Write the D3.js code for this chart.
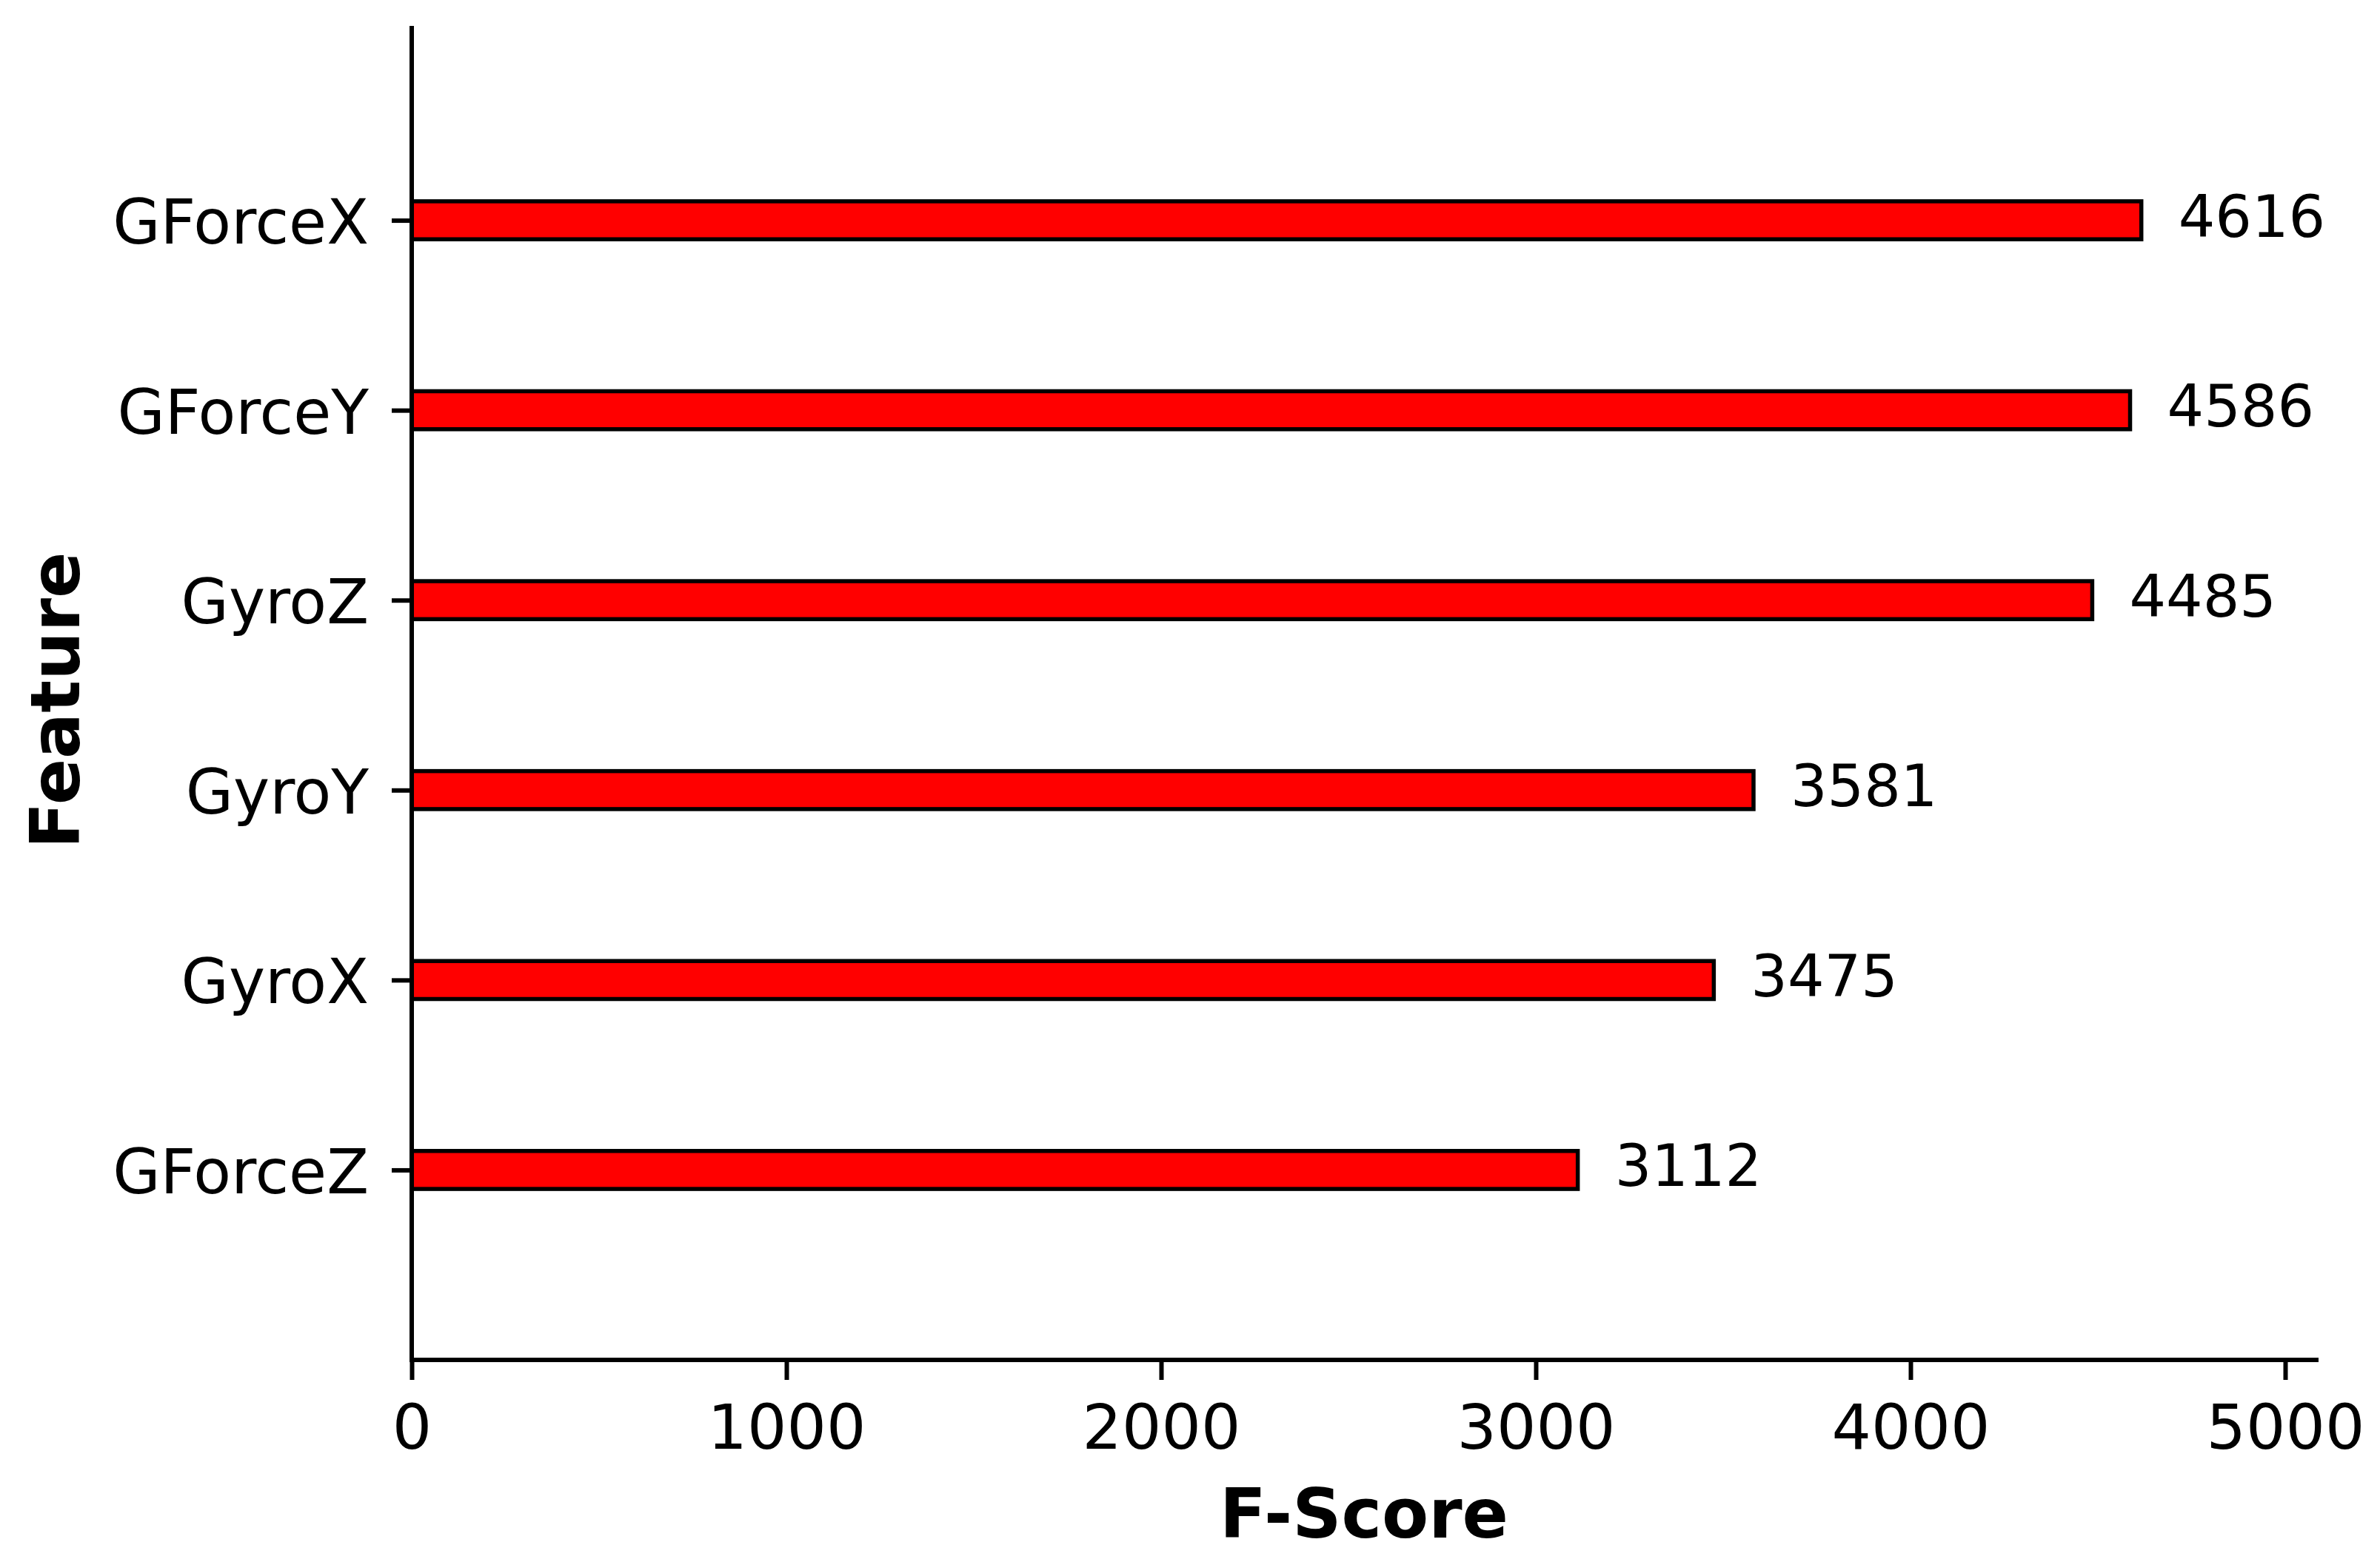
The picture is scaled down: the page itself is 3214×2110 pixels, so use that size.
<!DOCTYPE html>
<html>
<head>
<meta charset="utf-8">
<script src="https://cdn.jsdelivr.net/npm/d3@7"></script>
<style>
  body { margin: 0; background: #fff; }
  text { font-family: "DejaVu Sans", sans-serif; fill: #000; }
</style>
</head>
<body>
<div id="chart"></div>
<script>
// features top to bottom and their F-scores
var features = ["GForceX", "GForceY", "GyroZ", "GyroY", "GyroX", "GForceZ"];
var scores = [4616, 4586, 4485, 3581, 3475, 3112];
var xTicks = [0, 1000, 2000, 3000, 4000, 5000];

var width = 3214, height = 2110;
var margin = {top: 38, right: 86, bottom: 273, left: 556};

var svg = d3.select("#chart")
  .append("svg")
    .attr("width", width)
    .attr("height", height);

var x = d3.scaleLinear()
  .domain([0, 5083])
  .range([margin.left, width - margin.right]);

var y = d3.scalePoint()
  .domain(features)
  .range([margin.top + 3, height - margin.bottom])
  .padding(1);

var barH = y.step() * 0.2;

// bars
svg.selectAll("rect.bar")
  .data(features)
  .enter()
  .append("rect")
    .attr("class", "bar")
    .attr("x", x(0))
    .attr("y", d => y(d) - barH / 2)
    .attr("width", (d, i) => x(scores[i]) - x(0))
    .attr("height", barH)
    .attr("fill", "#ff0000")
    .attr("stroke", "#000")
    .attr("stroke-width", 5.5);

// value labels
svg.selectAll("text.val")
  .data(features)
  .enter()
  .append("text")
    .attr("class", "val")
    .attr("x", (d, i) => x(scores[i]) + 50)
    .attr("y", d => y(d) + 22)
    .style("font-size", "78px")
    .text((d, i) => scores[i]);

// x axis
var xAxis = svg.append("g")
  .attr("transform", "translate(0," + (height - margin.bottom) + ")")
  .call(d3.axisBottom(x).tickValues(xTicks).tickFormat(d3.format("d")).tickSize(27).tickPadding(20));

// y axis
var yAxis = svg.append("g")
  .attr("transform", "translate(" + margin.left + ",0)")
  .call(d3.axisLeft(y).tickSize(27).tickPadding(31));

[xAxis, yAxis].forEach(function (ax) {
  ax.select(".domain").attr("stroke", "#000").attr("stroke-width", 6).attr("stroke-linecap", "square");
  ax.selectAll(".tick line").attr("stroke", "#000").attr("stroke-width", 6);
  ax.selectAll(".tick text").attr("font-family", null);
});
xAxis.selectAll(".tick text").style("font-size", "84px");
yAxis.selectAll(".tick text").style("font-size", "83px");
// spine only, no outer ticks
xAxis.select(".domain").attr("d", "M" + x(0) + ",0H" + x.range()[1]);
yAxis.select(".domain").attr("d", "M0," + margin.top + "V" + (height - margin.bottom));
yAxis.selectAll(".tick text").attr("dy", null).attr("y", 31);
xAxis.selectAll(".tick text").attr("dy", null).attr("y", 120);

// axis titles
svg.append("text")
  .attr("x", (x.range()[0] + x.range()[1]) / 2)
  .attr("y", 2077)
  .attr("text-anchor", "middle")
  .style("font-size", "92px")
  .style("font-weight", "bold")
  .text("F-Score");

svg.append("text")
  .attr("transform", "translate(107," + 946 + ") rotate(-90)")
  .attr("text-anchor", "middle")
  .style("font-size", "92px")
  .style("font-weight", "bold")
  .text("Feature");
</script>
</body>
</html>
